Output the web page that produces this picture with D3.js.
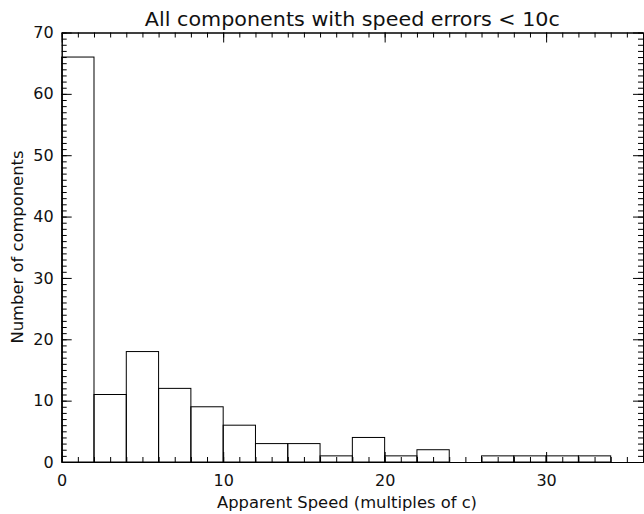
<!DOCTYPE html>
<html>
<head>
<meta charset="utf-8">
<script src="https://cdn.jsdelivr.net/npm/d3@7"></script>
<style>
  html, body { margin: 0; padding: 0; background: #fff; }
  svg { display: block; }
  text { font-family: "DejaVu Sans", sans-serif; fill: #111; }
</style>
</head>
<body>
<svg id="chart" width="644" height="514"></svg>
<script>
// Histogram bins (lower edge) and counts
const binStarts = [0, 2, 4, 6, 8, 10, 12, 14, 16, 18, 20, 22, 24, 26, 28, 30, 32];
const binWidth = 2;
const counts = [66, 11, 18, 12, 9, 6, 3, 3, 1, 4, 1, 2, 0, 1, 1, 1, 1];
const xTickLabels = [0, 10, 20, 30];
const yTickLabels = [0, 10, 20, 30, 40, 50, 60, 70];
const titleText = "All components with speed errors < 10c";
const xLabelText = "Apparent Speed (multiples of c)";
const yLabelText = "Number of components";

(function () {
const svg = d3.select("#chart");
const mLeft = 61.7, mRight = 643, mTop = 32.5, mBottom = 462;

const x = d3.scaleLinear().domain([0, 36]).range([mLeft, mRight]);
const y = d3.scaleLinear().domain([0, 70]).range([mBottom, mTop]);

const minorX = d3.range(0, 37, 1);
const minorY = d3.range(0, 71, 1);

function styleAxis(g) {
  g.selectAll("path, line").attr("stroke", "#000").attr("stroke-width", 1);
  g.selectAll("text").attr("font-size", 16).attr("font-family", "DejaVu Sans, sans-serif").attr("fill", "#111");
}

// Minor ticks
svg.append("g").attr("transform", `translate(0,${mBottom})`)
  .call(d3.axisBottom(x).tickValues(minorX).tickSize(-5).tickSizeOuter(0).tickFormat(""))
  .call(styleAxis);
svg.append("g").attr("transform", `translate(0,${mTop})`)
  .call(d3.axisTop(x).tickValues(minorX).tickSize(-5).tickSizeOuter(0).tickFormat(""))
  .call(styleAxis);
svg.append("g").attr("transform", `translate(${mLeft},0)`)
  .call(d3.axisLeft(y).tickValues(minorY).tickSize(-5).tickSizeOuter(0).tickFormat(""))
  .call(styleAxis);
svg.append("g").attr("transform", `translate(${mRight},0)`)
  .call(d3.axisRight(y).tickValues(minorY).tickSize(-5).tickSizeOuter(0).tickFormat(""))
  .call(styleAxis);

// Major ticks
svg.append("g").attr("transform", `translate(0,${mBottom})`)
  .call(d3.axisBottom(x).tickValues(xTickLabels).tickSize(-10).tickSizeOuter(0).tickPadding(13).tickFormat(d3.format("d")))
  .call(styleAxis);
svg.append("g").attr("transform", `translate(0,${mTop})`)
  .call(d3.axisTop(x).tickValues(xTickLabels).tickSize(-10).tickSizeOuter(0).tickFormat(""))
  .call(styleAxis);
svg.append("g").attr("transform", `translate(${mLeft},0)`)
  .call(d3.axisLeft(y).tickValues(yTickLabels).tickSize(-10).tickSizeOuter(0).tickPadding(8).tickFormat(d3.format("d")))
  .call(styleAxis);
svg.append("g").attr("transform", `translate(${mRight},0)`)
  .call(d3.axisRight(y).tickValues(yTickLabels).tickSize(-10).tickSizeOuter(0).tickFormat(""))
  .call(styleAxis);

// Bars
svg.append("g").selectAll("rect")
  .data(binStarts.map((s, i) => ({ s, v: counts[i] })).filter(d => d.v > 0))
  .join("rect")
  .attr("x", d => x(d.s))
  .attr("width", d => x(d.s + binWidth) - x(d.s))
  .attr("y", d => y(d.v))
  .attr("height", d => y(0) - y(d.v))
  .attr("fill", "none")
  .attr("stroke", "#000")
  .attr("stroke-width", 1);

// Title
svg.append("text")
  .attr("x", (mLeft + mRight) / 2).attr("y", 26)
  .attr("text-anchor", "middle")
  .attr("font-size", 19)
  .attr("textLength", 415).attr("lengthAdjust", "spacingAndGlyphs")
  .text(titleText);

// X label
svg.append("text")
  .attr("x", 347).attr("y", 508)
  .attr("text-anchor", "middle")
  .attr("font-size", 16)
  .attr("textLength", 260).attr("lengthAdjust", "spacingAndGlyphs")
  .text(xLabelText);

// Y label
svg.append("text")
  .attr("transform", "translate(23,247) rotate(-90)")
  .attr("text-anchor", "middle")
  .attr("font-size", 16)
  .attr("textLength", 193).attr("lengthAdjust", "spacingAndGlyphs")
  .text(yLabelText);
})();
</script>
</body>
</html>
